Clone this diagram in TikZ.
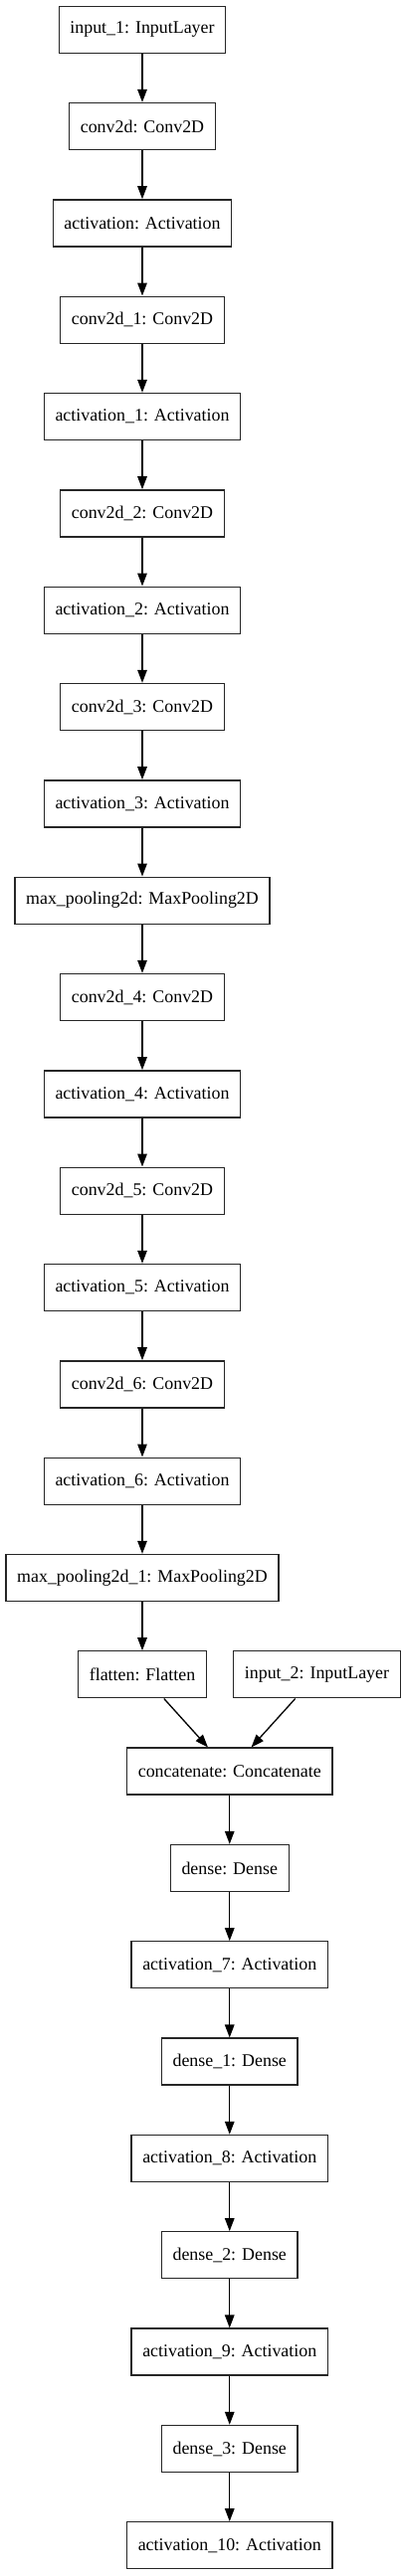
\documentclass[tikz,border=0pt]{standalone}
\usepackage{fontspec}
\setmainfont{Liberation Serif}
\usetikzlibrary{positioning,arrows.meta,calc}

\begin{document}
\begin{tikzpicture}[x=1pt, y=1pt, node distance=49pt and 26pt,
  every node/.style={font=\fontsize{17.9pt}{21pt}\selectfont},
  capa/.style={draw=black!85, line width=1.33pt, minimum height=47pt, inner xsep=11.2pt},
  flecha/.style={-{Triangle[length=13pt, width=9.5pt]}, line width=1.33pt}]
\useasboundingbox (0,0) rectangle (404,-2591);
\node[capa] (in1) at (143,-29.7) {input\_1: InputLayer};
\node[capa, below=of in1] (c0) {conv2d: Conv2D};
\node[capa, below=of c0] (a0) {activation: Activation};
\node[capa, below=of a0] (c1) {conv2d\_1: Conv2D};
\node[capa, below=of c1] (a1) {activation\_1: Activation};
\node[capa, below=of a1] (c2) {conv2d\_2: Conv2D};
\node[capa, below=of c2] (a2) {activation\_2: Activation};
\node[capa, below=of a2] (c3) {conv2d\_3: Conv2D};
\node[capa, below=of c3] (a3) {activation\_3: Activation};
\node[capa, below=of a3] (mp0) {max\_pooling2d: MaxPooling2D};
\node[capa, below=of mp0] (c4) {conv2d\_4: Conv2D};
\node[capa, below=of c4] (a4) {activation\_4: Activation};
\node[capa, below=of a4] (c5) {conv2d\_5: Conv2D};
\node[capa, below=of c5] (a5) {activation\_5: Activation};
\node[capa, below=of a5] (c6) {conv2d\_6: Conv2D};
\node[capa, below=of c6] (a6) {activation\_6: Activation};
\node[capa, below=of a6] (mp1) {max\_pooling2d\_1: MaxPooling2D};
\node[capa, below=of mp1] (fl) {flatten: Flatten};
\node[capa, right=of fl] (in2) {input\_2: InputLayer};
\coordinate (mid) at ($(fl.south)!0.5!(in2.south)$);
\node[capa, below=of mid] (cat) {concatenate: Concatenate};
\node[capa, below=of cat] (d0) {dense: Dense};
\node[capa, below=of d0] (a7) {activation\_7: Activation};
\node[capa, below=of a7] (d1) {dense\_1: Dense};
\node[capa, below=of d1] (a8) {activation\_8: Activation};
\node[capa, below=of a8] (d2) {dense\_2: Dense};
\node[capa, below=of d2] (a9) {activation\_9: Activation};
\node[capa, below=of a9] (d3) {dense\_3: Dense};
\node[capa, below=of d3] (a10) {activation\_10: Activation};
\draw[flecha] (in1) -- (c0); \draw[flecha] (c0) -- (a0); \draw[flecha] (a0) -- (c1); \draw[flecha] (c1) -- (a1);
\draw[flecha] (a1) -- (c2); \draw[flecha] (c2) -- (a2); \draw[flecha] (a2) -- (c3); \draw[flecha] (c3) -- (a3);
\draw[flecha] (a3) -- (mp0); \draw[flecha] (mp0) -- (c4); \draw[flecha] (c4) -- (a4); \draw[flecha] (a4) -- (c5);
\draw[flecha] (c5) -- (a5); \draw[flecha] (a5) -- (c6); \draw[flecha] (c6) -- (a6); \draw[flecha] (a6) -- (mp1);
\draw[flecha] (mp1) -- (fl); \draw[flecha] (fl) -- (cat); \draw[flecha] (in2) -- (cat);
\draw[flecha] (cat) -- (d0); \draw[flecha] (d0) -- (a7); \draw[flecha] (a7) -- (d1); \draw[flecha] (d1) -- (a8);
\draw[flecha] (a8) -- (d2); \draw[flecha] (d2) -- (a9); \draw[flecha] (a9) -- (d3); \draw[flecha] (d3) -- (a10);
\end{tikzpicture}
\end{document}
